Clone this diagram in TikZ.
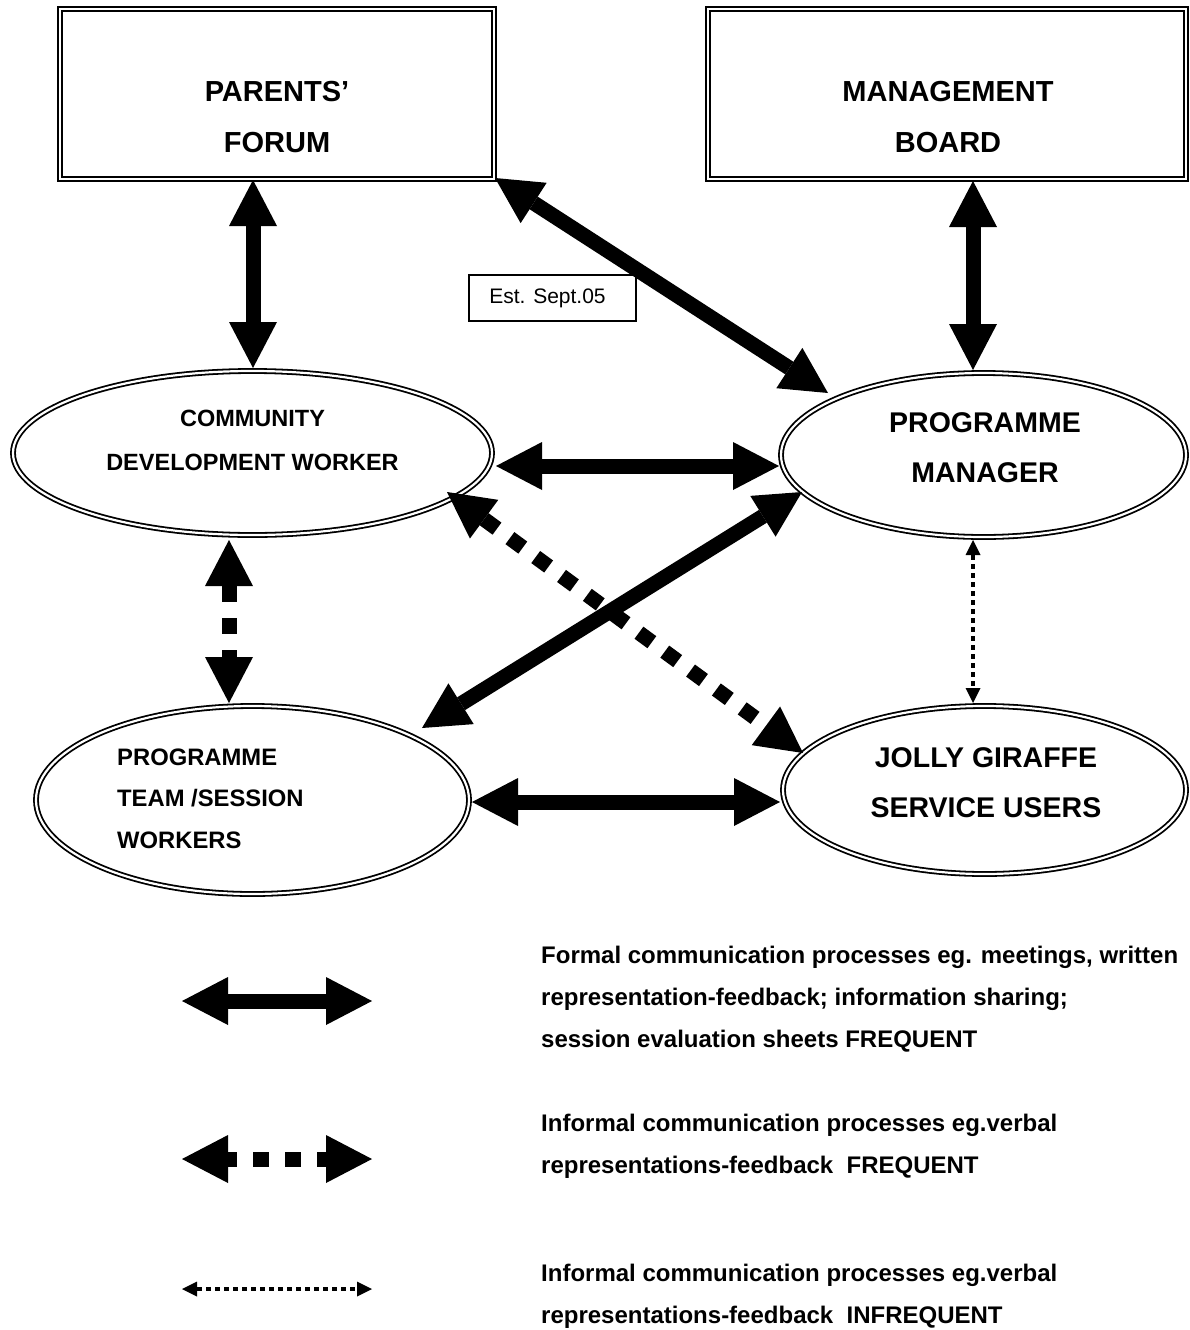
\documentclass[tikz,border=0pt]{standalone}
\usepackage{fontspec}
\setmainfont{Liberation Sans}
\usetikzlibrary{arrows.meta,shapes.geometric,calc}
\begin{document}
\begin{tikzpicture}[x=1pt,y=-1pt,
  dbl/.style={draw=black,line width=1.8pt,double=white,double distance=2.2pt},
  boxn/.style={dbl,rectangle,inner sep=0pt},
  elln/.style={dbl,ellipse,inner sep=0pt},
  bigt/.style={font=\bfseries\fontsize{29}{51}\selectfont,align=center,inner sep=0pt},
  midt/.style={font=\bfseries\fontsize{28.5}{49.5}\selectfont,align=center,inner sep=0pt},
  smallt/.style={font=\bfseries\fontsize{23.8}{43}\selectfont,inner sep=0pt},
  legt/.style={font=\bfseries\fontsize{24}{42}\selectfont,align=left,inner sep=0pt,anchor=north west},
  bigarrow/.style={line width=15pt,
     {Triangle[length=46pt,width=48pt,line width=0pt]}-{Triangle[length=46pt,width=48pt,line width=0pt]}},
  dasharrow/.style={bigarrow,dash pattern=on 16pt off 16pt},
  dotarrow/.style={line width=4.5pt,dash pattern=on 4.5pt off 4.5pt,
     {Triangle[length=15pt,width=15pt,line width=0pt]}-{Triangle[length=15pt,width=15pt,line width=0pt]}},
]
\useasboundingbox (0,0) rectangle (1189,1330);

% shapes
\node[boxn,minimum width=434pt,minimum height=170pt] (pf) at (277,94) {};
\node[boxn,minimum width=478pt,minimum height=170pt] (mb) at (947,94) {};
\node[elln,minimum width=479pt,minimum height=164pt] (cdw) at (252.5,453) {};
\node[elln,minimum width=405pt,minimum height=164pt] (pm) at (983.5,455) {};
\node[elln,minimum width=433pt,minimum height=188pt] (ptsw) at (252.5,800) {};
\node[elln,minimum width=403pt,minimum height=168pt] (jg) at (984.5,790) {};
\node[draw,line width=1.5pt,minimum width=167pt,minimum height=46pt,inner sep=0pt,
      font=\fontsize{21}{25}\selectfont] (est) at (552.5,298) {Est. Sept.05\hspace*{10pt}};

% labels
\node[bigt] (pft) at (277,117.5) {PARENTS’\\FORUM};
\node[bigt] (mbt) at (948,117.5) {MANAGEMENT\\BOARD};
\node[smallt,font=\bfseries\fontsize{23.5}{44}\selectfont,align=center] (cdwt) at (252.5,440) {COMMUNITY\\DEVELOPMENT WORKER};
\node[midt] (pmt) at (985,447.5) {PROGRAMME\\MANAGER};
\node[midt,font=\bfseries\fontsize{28.5}{50}\selectfont] (jgt) at (986,783) {JOLLY GIRAFFE\\SERVICE USERS};
\node[smallt,align=left,anchor=west,font=\bfseries\fontsize{23.8}{41.5}\selectfont] (ptswt) at (117,798.5) {PROGRAMME\\TEAM /SESSION\\WORKERS};

% connectors
\draw[bigarrow] ([shift={(-24,86)}]pf.center) -- ([shift={(0.5,-85)}]cdw.center);
\draw[bigarrow] ([shift={(218,84)}]pf.center) -- ([shift={(-155.5,-62)}]pm.center);
\draw[bigarrow] ([shift={(26,87)}]mb.center) -- ([shift={(-10.5,-85)}]pm.center);
\draw[bigarrow] ([shift={(243.5,13)}]cdw.center) -- ([shift={(-204.5,11)}]pm.center);
\draw[dasharrow] ([shift={(-23.5,87)}]cdw.center) -- ([shift={(-23.5,-97)}]ptsw.center);
\draw[dasharrow] ([shift={(194.5,39)}]cdw.center) -- ([shift={(-181.5,-37)}]jg.center);
\draw[bigarrow] ([shift={(169.5,-72)}]ptsw.center) -- ([shift={(-181.5,37)}]pm.center);
\draw[dotarrow] ([shift={(-10.5,85)}]pm.center) -- ([shift={(-11.5,-87)}]jg.center);
\draw[bigarrow] ([shift={(219.5,2)}]ptsw.center) -- ([shift={(-204.5,12)}]jg.center);

% legend
\coordinate (l1a) at (182,1001); \coordinate (l1b) at (372,1001);
\coordinate (l2a) at (182,1159); \coordinate (l2b) at (372,1159);
\coordinate (l3a) at (182,1289); \coordinate (l3b) at (372,1289);
\draw[bigarrow] (l1a) -- (l1b);
\draw[dasharrow,dash phase=7pt] (l2a) -- (l2b);
\draw[dotarrow] (l3a) -- (l3b);

\node[legt] (leg1) at (541,946) {Formal communication processes eg. meetings, written\\representation-feedback; information sharing;\\session evaluation sheets FREQUENT};
\node[legt] (leg2) at (541,1114) {Informal communication processes eg.verbal\\representations-feedback\ \ FREQUENT};
\node[legt] (leg3) at (541,1264) {Informal communication processes eg.verbal\\representations-feedback\ \ INFREQUENT};
\end{tikzpicture}
\end{document}
